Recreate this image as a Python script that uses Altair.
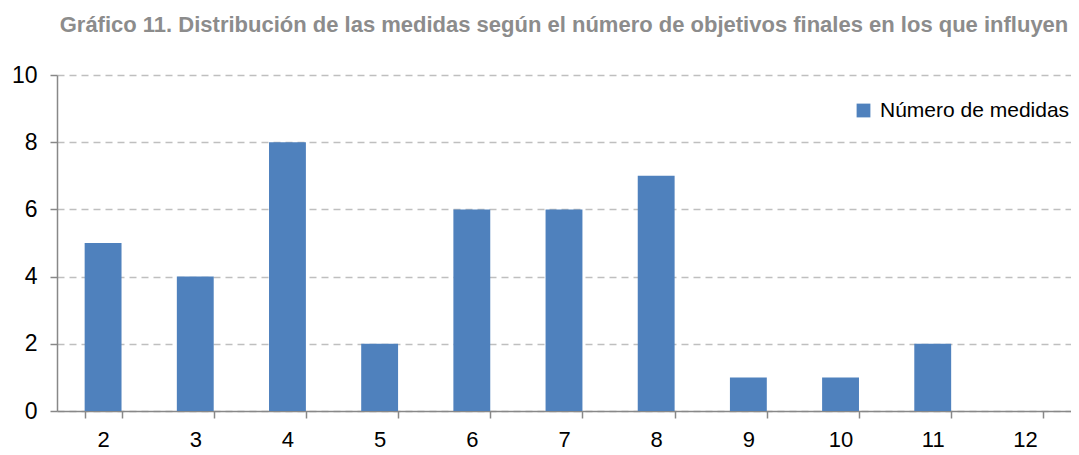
import altair as alt
import pandas as pd

categories = ["2", "3", "4", "5", "6", "7", "8", "9", "10", "11", "12"]
values = [5, 4, 8, 2, 6, 6, 7, 1, 1, 2, 0]
series = ["Número de medidas"] * len(categories)

df = pd.DataFrame({"cat": categories, "val": values, "serie": series})

FONT = "Liberation Sans Narrow, Arial Narrow, Liberation Sans, Arial, sans-serif"

chart = alt.Chart(df).mark_bar(color="#4F81BD").encode(
    x=alt.X("cat:N", sort=categories, title=None,
            scale=alt.Scale(paddingInner=0.6, paddingOuter=0.3),
            axis=alt.Axis(labelAngle=0, tickBand="extent", grid=False,
                          domainColor="#888888", domainWidth=1.5,
                          tickColor="#888888", tickWidth=1.5, tickSize=7,
                          labelFont=FONT, labelFontSize=22, labelColor="#000000",
                          labelPadding=11)),
    y=alt.Y("val:Q", title=None,
            scale=alt.Scale(domain=[0, 10]),
            axis=alt.Axis(values=[0, 2, 4, 6, 8, 10], grid=True,
                          gridColor="#bfbfbf", gridDash=[7, 5], gridWidth=1.5,
                          domainColor="#888888", domainWidth=1.5,
                          tickColor="#888888", tickWidth=1.5, tickSize=7,
                          labelFont=FONT, labelFontSize=23, labelColor="#000000",
                          labelPadding=13)),
    fill=alt.Fill("serie:N", title=None,
                  scale=alt.Scale(domain=["Número de medidas"], range=["#4F81BD"]),
                  legend=alt.Legend(orient="none", legendX=796, legendY=25,
                                    symbolType="square", symbolSize=190,
                                    symbolStrokeWidth=0, labelOffset=6,
                                    labelFont=FONT, labelFontSize=21,
                                    labelColor="#000000", labelLimit=400)),
).properties(
    width=1014,
    height=336,
    title=alt.TitleParams(
        "Gráfico 11. Distribución de las medidas según el número de objetivos finales en los que influyen",
        font=FONT, fontSize=22, fontWeight="bold", color="#8c8c8c",
        anchor="middle", offset=27),
    autosize=alt.AutoSizeParams(type="none"),
    padding={"left": 49, "top": 67, "right": 0, "bottom": 40},
).configure_view(stroke=None)

chart.save("out.html", embed_options={"renderer": "svg", "actions": False})
